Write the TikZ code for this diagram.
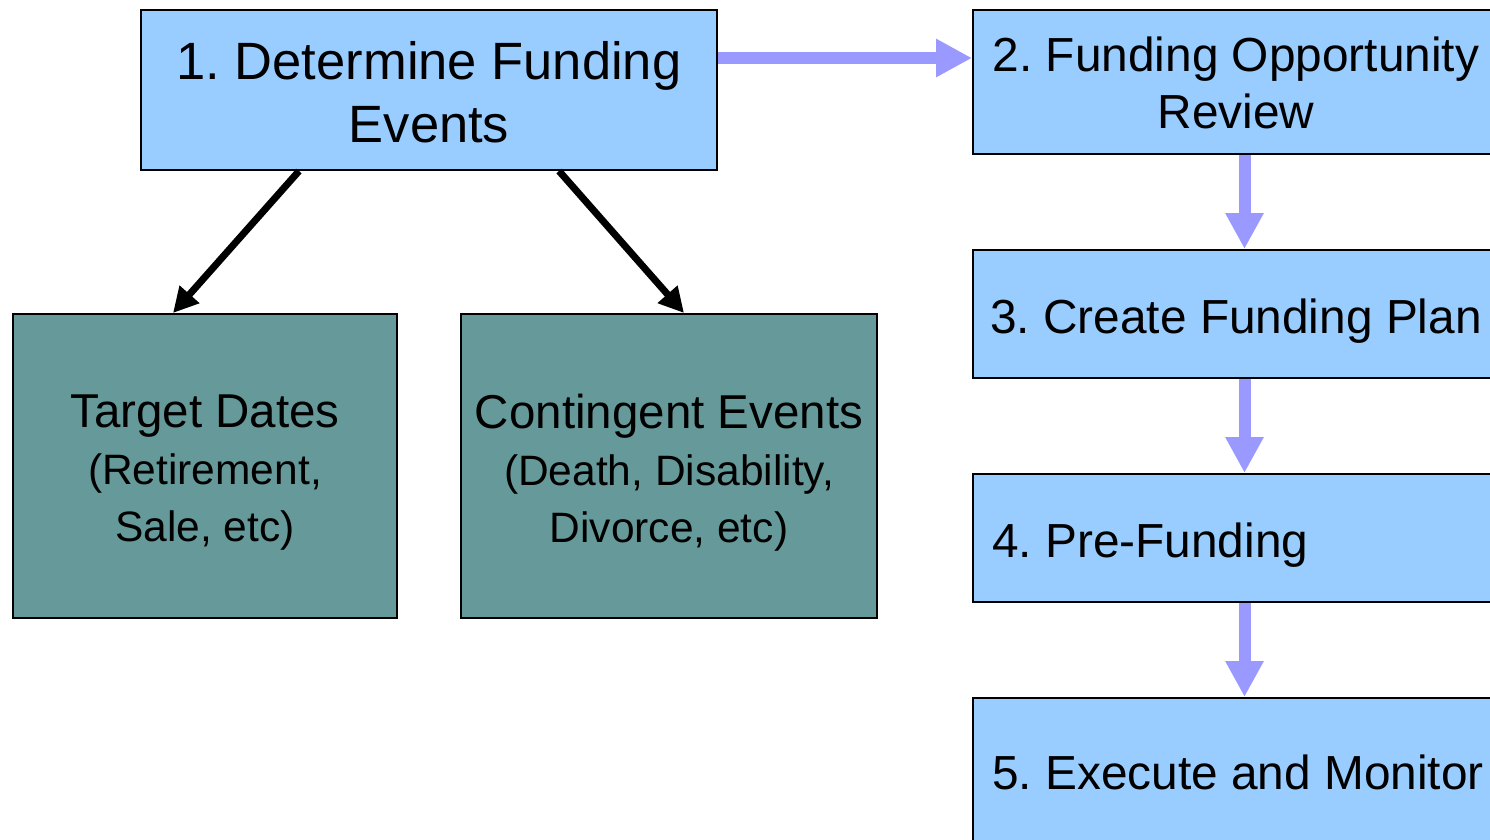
\documentclass[tikz,border=0pt]{standalone}
\usepackage{fontspec}
\setmainfont{Liberation Sans}
\usetikzlibrary{arrows.meta,calc}
\definecolor{boxblue}{HTML}{99CCFF}
\definecolor{boxteal}{HTML}{669999}
\definecolor{flowblue}{HTML}{9999FF}
\frenchspacing
\begin{document}
\begin{tikzpicture}[x=1pt,y=-1pt,
  stepbox/.style={draw=black,line width=2pt,fill=boxblue,inner sep=0pt},
  eventbox/.style={draw=black,line width=2pt,fill=boxteal,inner sep=0pt},
  boxtext/.style={inner sep=0pt,align=center},
  eventtext/.style={boxtext,font=\fontsize{42.5}{57}\selectfont},
  steptext/.style={inner sep=0pt,anchor=base west,font=\fontsize{47.8}{57}\selectfont},
  flow/.style={draw=flowblue,line width=12pt,-{Triangle[length=36pt,width=36pt]}},
  branch/.style={draw=black,line width=7pt,-{Triangle[length=25pt,width=25pt]}}]
\useasboundingbox (0,0) rectangle (1490,839);
\clip (0,0) rectangle (1490,839);

% left branch
\node[stepbox,minimum width=576pt,minimum height=160pt] (b1) at (429,90) {};
\node[eventbox,minimum width=384pt,minimum height=304pt] (td) at (205,466) {};
\node[eventbox,minimum width=416pt,minimum height=304pt] (ce) at (669,466) {};
\node[boxtext,font=\fontsize{52.5}{63}\selectfont] (t1) at ($(b1.center)+(0,2)$)
  {1. Determine Funding\\Events};
\node[eventtext] (ttd) at ($(td.center)+(0,7)$)
  {{\fontsize{47.5}{57}\selectfont Target Dates}\\(Retirement,\\Sale, etc)};
\node[eventtext] (tce) at ($(ce.center)+(0,7)$)
  {{\fontsize{47.5}{57}\selectfont Contingent Events}\\(Death, Disability,\\Divorce, etc)};

% right column of steps
\node[stepbox,minimum width=526pt,minimum height=144pt] (b2) at (1236,82) {};
\node[stepbox,minimum width=526pt,minimum height=128pt] (b3) at (1236,314) {};
\node[stepbox,minimum width=526pt,minimum height=128pt] (b4) at (1236,538) {};
\node[stepbox,minimum width=526pt,minimum height=146pt] (b5) at (1236,771) {};
\node[boxtext,font=\fontsize{47.8}{57}\selectfont] (t2) at ($(b2.center)+(0,1)$)
  {2. Funding Opportunity\\Review};
\node[steptext] (t3) at ($(b3.west)+(18,19)$) {3. Create Funding Plan};
\node[steptext] (t4) at ($(b4.west)+(20,19)$) {4. Pre-Funding};
\node[steptext] (t5) at ($(b5.west)+(20,18)$) {5. Execute and Monitor};

% connectors
\coordinate (a1) at ($(b1.east)+(0,-32)$);
\draw[flow] (a1) -- (a1 -| b2.west);
\coordinate (s2) at ($(b2.south)+(8.5,0)$);
\coordinate (s3) at ($(b3.south)+(8.5,0)$);
\coordinate (s4) at ($(b4.south)+(8.5,0)$);
\draw[flow] (s2) -- (s2 |- b3.north);
\draw[flow] (s3) -- (s3 |- b4.north);
\draw[flow] (s4) -- (s4 |- b5.north);
\draw[branch] ($(b1.south)+(-130,0)$) -- ($(td.north)+(-32,0)$);
\draw[branch] ($(b1.south)+(130,0)$) -- ($(ce.north)+(15,0)$);
\end{tikzpicture}
\end{document}
